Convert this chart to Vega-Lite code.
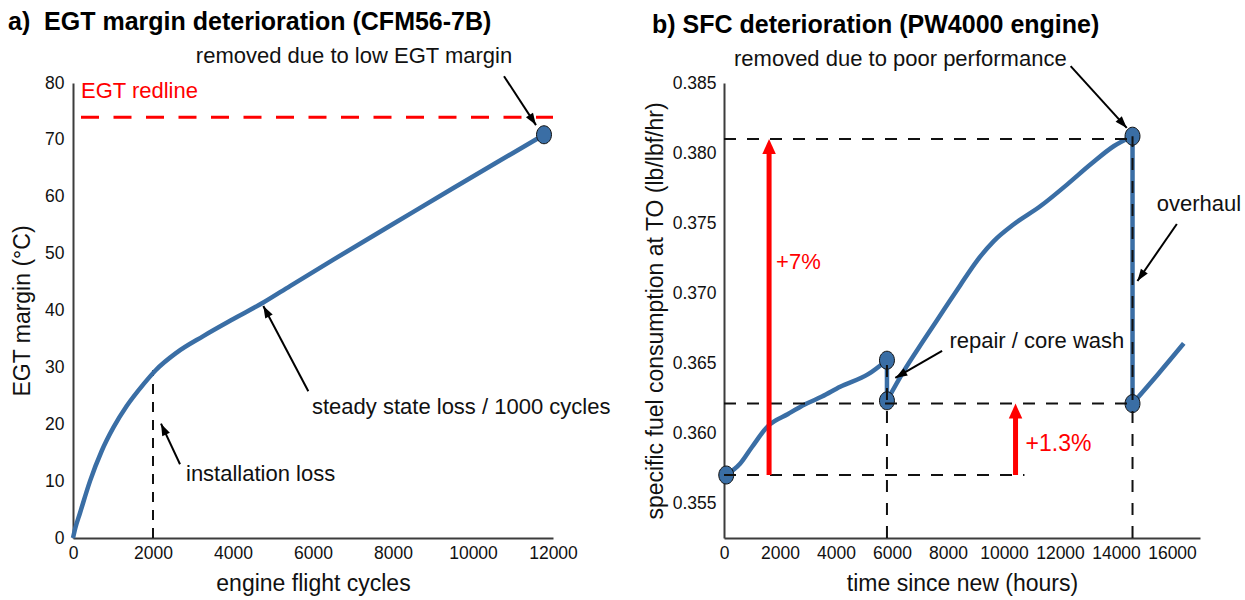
{
  "$schema": "https://vega.github.io/schema/vega-lite/v6.json",
  "background": "white",
  "padding": {"left": 8, "top": 9, "right": 5, "bottom": 5},
  "bounds": "flush",
  "spacing": 171,
  "config": {
    "view": {"stroke": null},
    "font": "Liberation Sans",
    "axis": {
      "domainColor": "#3c3c3c", "domainWidth": 2, "ticks": false, "grid": false, "labelFlush": false, "labelOverlap": false,
      "labelFont": "Liberation Sans", "labelFontSize": 17.5, "labelColor": "#111111",
      "titleFont": "Liberation Sans", "titleFontSize": 23, "titleFontWeight": "normal", "titleColor": "#111111"
    },
    "title": {"font": "Liberation Sans", "fontSize": 25, "fontWeight": "bold", "anchor": "start", "frame": "group", "color": "#000000"}
  },
  "datasets": {
    "egtCurve": [
      {"x": 0, "y": 0}, {"x": 60, "y": 1.8}, {"x": 175, "y": 4.4}, {"x": 425, "y": 10}, {"x": 717, "y": 15.3},
      {"x": 1008, "y": 19.4}, {"x": 1342, "y": 23.2}, {"x": 1758, "y": 27}, {"x": 2067, "y": 29.5},
      {"x": 2592, "y": 32.6}, {"x": 3258, "y": 35.5}, {"x": 4008, "y": 38.5}, {"x": 4758, "y": 41.4},
      {"x": 5425, "y": 44.3}, {"x": 6500, "y": 48.9}, {"x": 8000, "y": 55.2}, {"x": 9500, "y": 61.5},
      {"x": 11000, "y": 67.7}, {"x": 11775, "y": 70.9}
    ],
    "egtDot": [{"x": 11775, "y": 70.9}],
    "egtRedline": [{"x": 200, "x2": 12000, "y": 74}],
    "egtDash": [{"x": 2000, "y": 0, "y2": 29.5}],
    "egtArrows": [
      {"id": "a1", "x": 10775, "y": 81.2, "x2": 11575, "y2": 72.6},
      {"id": "a2", "x": 5883, "y": 25.8, "x2": 4758, "y2": 40.8},
      {"id": "a3", "x": 2675, "y": 12.96, "x2": 2200, "y2": 20.1}
    ],
    "egtTextCenter": [{"x": 7025, "y": 84.75, "text": "removed due to low EGT margin"}],
    "egtTextLeft": [
      {"x": 2825, "y": 11.25, "text": "installation loss"},
      {"x": 5975, "y": 23, "text": "steady state loss / 1000 cycles"}
    ],
    "egtRedText": [{"x": 200, "y": 78.6, "text": "EGT redline"}],
    "sfcCurve": [
      {"s": "1", "x": 80, "y": 0.357}, {"s": "1", "x": 572, "y": 0.3578}, {"s": "1", "x": 1000, "y": 0.359},
      {"s": "1", "x": 1574, "y": 0.3605}, {"s": "1", "x": 2289, "y": 0.36136}, {"s": "1", "x": 2900, "y": 0.36205},
      {"s": "1", "x": 3500, "y": 0.3626}, {"s": "1", "x": 4149, "y": 0.3633}, {"s": "1", "x": 5150, "y": 0.3642},
      {"s": "1", "x": 5820, "y": 0.3652},
      {"s": "2", "x": 5820, "y": 0.3623}, {"s": "2", "x": 6415, "y": 0.3644}, {"s": "2", "x": 7131, "y": 0.36662},
      {"s": "2", "x": 7847, "y": 0.36878}, {"s": "2", "x": 8444, "y": 0.37058}, {"s": "2", "x": 9041, "y": 0.37232},
      {"s": "2", "x": 9636, "y": 0.37371}, {"s": "2", "x": 10351, "y": 0.37491}, {"s": "2", "x": 11306, "y": 0.37621},
      {"s": "2", "x": 12261, "y": 0.37776}, {"s": "2", "x": 13095, "y": 0.37919}, {"s": "2", "x": 13929, "y": 0.3805},
      {"s": "2", "x": 14590, "y": 0.3812},
      {"s": "3", "x": 14590, "y": 0.3621}, {"s": "3", "x": 15500, "y": 0.3642}, {"s": "3", "x": 16420, "y": 0.3664}
    ],
    "sfcVertical": [
      {"x": 5820, "y": 0.3652, "y2": 0.3623},
      {"x": 14590, "y": 0.3812, "y2": 0.3621}
    ],
    "sfcDots": [
      {"x": 80, "y": 0.357}, {"x": 5820, "y": 0.3652}, {"x": 5820, "y": 0.3623},
      {"x": 14590, "y": 0.3812}, {"x": 14590, "y": 0.3621}
    ],
    "sfcDash": [
      {"x": 0, "x2": 10730, "y": 0.357, "y2": 0.357},
      {"x": 0, "x2": 14590, "y": 0.3621, "y2": 0.3621},
      {"x": 0, "x2": 14590, "y": 0.381, "y2": 0.381},
      {"x": 5820, "x2": 5820, "y": 0.3525, "y2": 0.3652},
      {"x": 14590, "x2": 14590, "y": 0.3525, "y2": 0.3812}
    ],
    "sfcArrows": [
      {"id": "b1", "x": 12380, "y": 0.38621, "x2": 14384, "y2": 0.38179},
      {"id": "b2", "x": 16173, "y": 0.37493, "x2": 14766, "y2": 0.37086},
      {"id": "b3", "x": 7789, "y": 0.36586, "x2": 6118, "y2": 0.36393}
    ],
    "sfcRed": [
      {"id": "r1", "x": 1610, "y": 0.357, "y2": 0.38029, "tip": 0.381},
      {"id": "r2", "x": 10412, "y": 0.357, "y2": 0.36139, "tip": 0.3621}
    ],
    "sfcTextCenter": [{"x": 6297, "y": 0.38671, "text": "removed due to poor performance"}],
    "sfcTextLeft": [
      {"x": 15457, "y": 0.37636, "text": "overhaul"},
      {"x": 8050, "y": 0.36657, "text": "repair / core wash"}
    ],
    "sfcRedText": [
      {"id": "t1", "x": 1861, "y": 0.37221, "text": "+7%"},
      {"id": "t2", "x": 10770, "y": 0.35921, "text": "+1.3%"}
    ]
  },
  "hconcat": [
    {
      "width": 480,
      "height": 455,
      "title": {"text": "a)\u00a0 EGT margin deterioration (CFM56-7B)", "dx": -65, "offset": 10},
      "layer": [
        {
          "data": {"name": "egtRedline"},
          "mark": {"type": "rule", "color": "#ff0000", "strokeWidth": 3, "strokeDash": [18, 14.5]},
          "encoding": {
            "x": {"field": "x", "type": "quantitative", "scale": {"domain": [0, 12000], "nice": false},
                  "axis": {"values": [0, 2000, 4000, 6000, 8000, 10000, 12000], "format": "d", "title": "engine flight cycles", "labelPadding": 6, "titlePadding": 11}},
            "x2": {"field": "x2"},
            "y": {"field": "y", "type": "quantitative", "scale": {"domain": [0, 80], "nice": false},
                  "axis": {"values": [0, 10, 20, 30, 40, 50, 60, 70, 80], "title": "EGT margin (°C)", "labelPadding": 9, "titlePadding": 10}}
          }
        },
        {
          "data": {"name": "egtDash"},
          "mark": {"type": "rule", "color": "#111111", "strokeWidth": 2, "strokeDash": [10, 8]},
          "encoding": {
            "x": {"field": "x", "type": "quantitative"},
            "y": {"field": "y", "type": "quantitative"},
            "y2": {"field": "y2"}
          }
        },
        {
          "data": {"name": "egtCurve"},
          "mark": {"type": "line", "color": "#3a6ea5", "strokeWidth": 4.5, "interpolate": "monotone"},
          "encoding": {
            "x": {"field": "x", "type": "quantitative"},
            "y": {"field": "y", "type": "quantitative"}
          }
        },
        {
          "data": {"name": "egtDot"},
          "mark": {"type": "point", "shape": "M 0 -1 A 0.83 1 0 1 1 0 1 A 0.83 1 0 1 1 0 -1 Z", "size": 324, "filled": true, "fill": "#3a6ea5", "stroke": "#111111", "strokeWidth": 1, "opacity": 1},
          "encoding": {
            "x": {"field": "x", "type": "quantitative"},
            "y": {"field": "y", "type": "quantitative"}
          }
        },
        {
          "data": {"name": "egtArrows"},
          "mark": {"type": "rule", "color": "#000000", "strokeWidth": 2},
          "encoding": {
            "x": {"field": "x", "type": "quantitative"},
            "y": {"field": "y", "type": "quantitative"},
            "x2": {"field": "x2"},
            "y2": {"field": "y2"}
          }
        },
        {
          "data": {"name": "egtArrows"},
          "transform": [{"filter": "datum.id == 'a1'"}],
          "mark": {"type": "point", "shape": "M 0 0 L -0.35 1 L 0.35 1 Z", "size": 576, "filled": true, "color": "#000000", "opacity": 1, "angle": 147},
          "encoding": {"x": {"field": "x2", "type": "quantitative"}, "y": {"field": "y2", "type": "quantitative"}}
        },
        {
          "data": {"name": "egtArrows"},
          "transform": [{"filter": "datum.id == 'a2'"}],
          "mark": {"type": "point", "shape": "M 0 0 L -0.35 1 L 0.35 1 Z", "size": 576, "filled": true, "color": "#000000", "opacity": 1, "angle": -28},
          "encoding": {"x": {"field": "x2", "type": "quantitative"}, "y": {"field": "y2", "type": "quantitative"}}
        },
        {
          "data": {"name": "egtArrows"},
          "transform": [{"filter": "datum.id == 'a3'"}],
          "mark": {"type": "point", "shape": "M 0 0 L -0.35 1 L 0.35 1 Z", "size": 576, "filled": true, "color": "#000000", "opacity": 1, "angle": -25},
          "encoding": {"x": {"field": "x2", "type": "quantitative"}, "y": {"field": "y2", "type": "quantitative"}}
        },
        {
          "data": {"name": "egtTextCenter"},
          "mark": {"type": "text", "font": "Liberation Sans", "fontSize": 22, "color": "#111111", "align": "center", "baseline": "middle"},
          "encoding": {"x": {"field": "x", "type": "quantitative"}, "y": {"field": "y", "type": "quantitative"}, "text": {"field": "text"}}
        },
        {
          "data": {"name": "egtTextLeft"},
          "mark": {"type": "text", "font": "Liberation Sans", "fontSize": 22, "color": "#111111", "align": "left", "baseline": "middle"},
          "encoding": {"x": {"field": "x", "type": "quantitative"}, "y": {"field": "y", "type": "quantitative"}, "text": {"field": "text"}}
        },
        {
          "data": {"name": "egtRedText"},
          "mark": {"type": "text", "font": "Liberation Sans", "fontSize": 22, "color": "#ff0000", "align": "left", "baseline": "middle"},
          "encoding": {"x": {"field": "x", "type": "quantitative"}, "y": {"field": "y", "type": "quantitative"}, "text": {"field": "text"}}
        }
      ]
    },
    {
      "width": 476,
      "height": 455,
      "title": {"text": "b) SFC deterioration (PW4000 engine)", "dx": -72, "offset": 10},
      "layer": [
        {
          "data": {"name": "sfcCurve"},
          "mark": {"type": "line", "color": "#3a6ea5", "strokeWidth": 4.5, "interpolate": "monotone"},
          "encoding": {
            "x": {"field": "x", "type": "quantitative", "scale": {"domain": [0, 17000], "nice": false},
                  "axis": {"values": [0, 2000, 4000, 6000, 8000, 10000, 12000, 14000, 16000], "format": "d", "title": "time since new (hours)", "labelPadding": 6, "titlePadding": 11}},
            "y": {"field": "y", "type": "quantitative", "scale": {"domain": [0.3525, 0.385], "nice": false, "zero": false},
                  "axis": {"values": [0.355, 0.36, 0.365, 0.37, 0.375, 0.38, 0.385], "format": ".3f", "title": "specific fuel consumption at TO (lb/lbf/hr)", "labelPadding": 8, "titlePadding": 5}},
            "detail": {"field": "s"}
          }
        },
        {
          "data": {"name": "sfcVertical"},
          "mark": {"type": "rule", "color": "#3a6ea5", "strokeWidth": 4.5},
          "encoding": {
            "x": {"field": "x", "type": "quantitative"},
            "y": {"field": "y", "type": "quantitative"},
            "y2": {"field": "y2"}
          }
        },
        {
          "data": {"name": "sfcDots"},
          "mark": {"type": "point", "shape": "M 0 -1 A 0.83 1 0 1 1 0 1 A 0.83 1 0 1 1 0 -1 Z", "size": 324, "filled": true, "fill": "#3a6ea5", "stroke": "#111111", "strokeWidth": 1, "opacity": 1},
          "encoding": {
            "x": {"field": "x", "type": "quantitative"},
            "y": {"field": "y", "type": "quantitative"}
          }
        },
        {
          "data": {"name": "sfcDash"},
          "mark": {"type": "rule", "color": "#111111", "strokeWidth": 2, "strokeDash": [12, 11]},
          "encoding": {
            "x": {"field": "x", "type": "quantitative"},
            "x2": {"field": "x2"},
            "y": {"field": "y", "type": "quantitative"},
            "y2": {"field": "y2"}
          }
        },
        {
          "data": {"name": "sfcRed"},
          "mark": {"type": "rule", "color": "#ff0000", "strokeWidth": 5},
          "encoding": {
            "x": {"field": "x", "type": "quantitative"},
            "y": {"field": "y", "type": "quantitative"},
            "y2": {"field": "y2"}
          }
        },
        {
          "data": {"name": "sfcRed"},
          "mark": {"type": "point", "shape": "M 0 0 L -0.45 1 L 0.45 1 Z", "size": 900, "filled": true, "color": "#ff0000", "opacity": 1, "angle": 0},
          "encoding": {"x": {"field": "x", "type": "quantitative"}, "y": {"field": "tip", "type": "quantitative"}}
        },
        {
          "data": {"name": "sfcArrows"},
          "mark": {"type": "rule", "color": "#000000", "strokeWidth": 2},
          "encoding": {
            "x": {"field": "x", "type": "quantitative"},
            "y": {"field": "y", "type": "quantitative"},
            "x2": {"field": "x2"},
            "y2": {"field": "y2"}
          }
        },
        {
          "data": {"name": "sfcArrows"},
          "transform": [{"filter": "datum.id == 'b1'"}],
          "mark": {"type": "point", "shape": "M 0 0 L -0.35 1 L 0.35 1 Z", "size": 576, "filled": true, "color": "#000000", "opacity": 1, "angle": 138},
          "encoding": {"x": {"field": "x2", "type": "quantitative"}, "y": {"field": "y2", "type": "quantitative"}}
        },
        {
          "data": {"name": "sfcArrows"},
          "transform": [{"filter": "datum.id == 'b2'"}],
          "mark": {"type": "point", "shape": "M 0 0 L -0.35 1 L 0.35 1 Z", "size": 576, "filled": true, "color": "#000000", "opacity": 1, "angle": -145},
          "encoding": {"x": {"field": "x2", "type": "quantitative"}, "y": {"field": "y2", "type": "quantitative"}}
        },
        {
          "data": {"name": "sfcArrows"},
          "transform": [{"filter": "datum.id == 'b3'"}],
          "mark": {"type": "point", "shape": "M 0 0 L -0.35 1 L 0.35 1 Z", "size": 576, "filled": true, "color": "#000000", "opacity": 1, "angle": -120},
          "encoding": {"x": {"field": "x2", "type": "quantitative"}, "y": {"field": "y2", "type": "quantitative"}}
        },
        {
          "data": {"name": "sfcTextCenter"},
          "mark": {"type": "text", "font": "Liberation Sans", "fontSize": 22, "color": "#111111", "align": "center", "baseline": "middle"},
          "encoding": {"x": {"field": "x", "type": "quantitative"}, "y": {"field": "y", "type": "quantitative"}, "text": {"field": "text"}}
        },
        {
          "data": {"name": "sfcTextLeft"},
          "mark": {"type": "text", "font": "Liberation Sans", "fontSize": 22, "color": "#111111", "align": "left", "baseline": "middle"},
          "encoding": {"x": {"field": "x", "type": "quantitative"}, "y": {"field": "y", "type": "quantitative"}, "text": {"field": "text"}}
        },
        {
          "data": {"name": "sfcRedText"},
          "transform": [{"filter": "datum.id == 't1'"}],
          "mark": {"type": "text", "font": "Liberation Sans", "fontSize": 22, "color": "#ff0000", "align": "left", "baseline": "middle"},
          "encoding": {"x": {"field": "x", "type": "quantitative"}, "y": {"field": "y", "type": "quantitative"}, "text": {"field": "text"}}
        },
        {
          "data": {"name": "sfcRedText"},
          "transform": [{"filter": "datum.id == 't2'"}],
          "mark": {"type": "text", "font": "Liberation Sans", "fontSize": 23, "color": "#ff0000", "align": "left", "baseline": "middle"},
          "encoding": {"x": {"field": "x", "type": "quantitative"}, "y": {"field": "y", "type": "quantitative"}, "text": {"field": "text"}}
        }
      ]
    }
  ]
}
